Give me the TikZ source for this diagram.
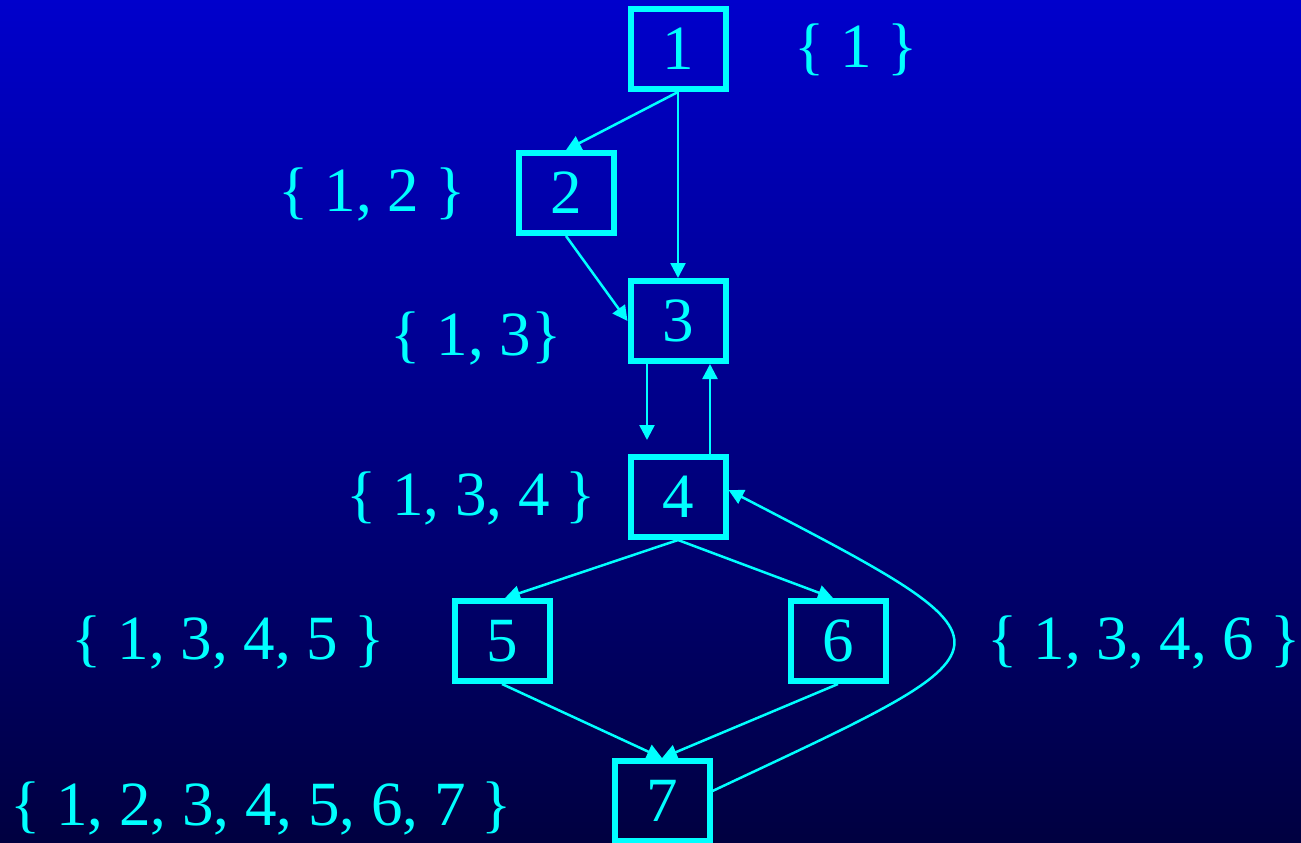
\documentclass[tikz,border=0pt]{standalone}
\usepackage{fontspec}
\setmainfont{Liberation Serif}
\usetikzlibrary{arrows.meta}
\definecolor{Aqua}{RGB}{0,255,255}
\definecolor{TopBlue}{RGB}{0,0,204}
\definecolor{BotBlue}{RGB}{0,0,64}

\begin{document}
\begin{tikzpicture}[x=0.5pt, y=-0.5pt,
  every node/.style={text=Aqua, font=\fontsize{31.5}{38}\selectfont},
  blk/.style={draw=Aqua, line width=3pt, minimum width=47.5pt, minimum height=40pt, inner sep=0pt},
  arr/.style={draw=Aqua, line width=1.25pt, -{Triangle[length=7.5pt,width=7.5pt]}}]
  \shade[top color=TopBlue, bottom color=BotBlue] (0,0) rectangle (1301,842);
  \useasboundingbox (0,0) rectangle (1301,842);
  % blocks
  \node[blk] (b1) at (678,49)  {1};
  \node[blk] (b2) at (566,193) {2};
  \node[blk] (b3) at (678,321) {3};
  \node[blk] (b4) at (678,497) {4};
  \node[blk] (b5) at (502,641) {5};
  \node[blk] (b6) at (838,641) {6};
  \node[blk] (b7) at (662,801) {7};
  % sets
  \node (s1) at (856,50)  {\{ 1 \}};
  \node (s2) at (372,194) {\{ 1, 2 \}};
  \node (s3) at (476,338) {\{ 1, 3\}};
  \node (s4) at (471,498) {\{ 1, 3, 4 \}};
  \node (s5) at (228,642) {\{ 1, 3, 4, 5 \}};
  \node (s6) at (1144,642) {\{ 1, 3, 4, 6 \}};
  \node (s7) at (261,808) {\{ 1, 2, 3, 4, 5, 6, 7 \}};
  % edges
  \draw[arr] (b1.south) -- (b2.north);
  \draw[arr] (b1.south) -- (b3.north);
  \draw[arr] (b2.south) -- (b3.west);
  \draw[arr, shorten >=7pt] ([xshift=-15.5pt]b3.south) -- ([xshift=-15.5pt]b4.north);
  \draw[arr] ([xshift=16pt]b4.north) -- ([xshift=16pt]b3.south);
  \draw[arr] (b4.south) -- ([xshift=1.5pt]b5.north);
  \draw[arr] (b4.south) -- ([xshift=-2.5pt]b6.north);
  \draw[arr] (b5.south) -- (b7.north);
  \draw[arr] (b6.south) -- (b7.north);
  \draw[arr] ([yshift=5pt]b7.east) .. controls (1025,644) and (1035,649) .. ([yshift=3.5pt]b4.east);
\end{tikzpicture}
\end{document}
